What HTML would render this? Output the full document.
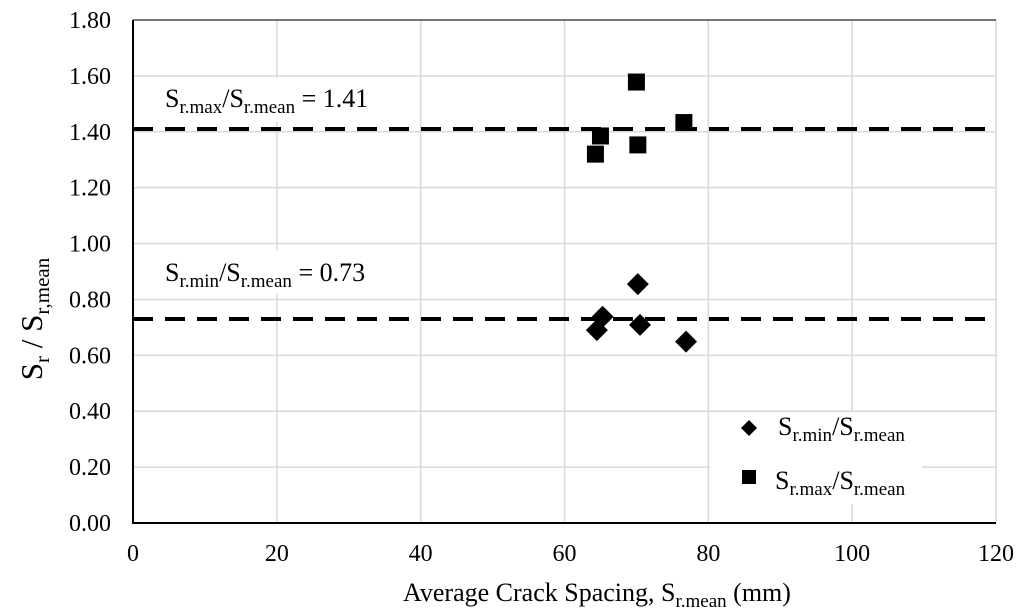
<!DOCTYPE html>
<html><head><meta charset="utf-8"><style>
body{margin:0;background:#fff;}
svg{display:block;font-family:"Liberation Serif",serif;}
</style></head><body>
<svg id="c" width="1024" height="613" xmlns="http://www.w3.org/2000/svg"></svg>
<script>
const xTicks=[0,20,40,60,80,100,120];
const yTicks=[0,0.2,0.4,0.6,0.8,1.0,1.2,1.4,1.6,1.8];
const minX=[70.2,65.3,64.5,70.5,76.9];
const minY=[0.855,0.738,0.69,0.709,0.649];
const maxX=[70.0,65.0,64.3,70.2,76.6];
const maxY=[1.578,1.385,1.32,1.353,1.433];
const refMax=[1.41];
const refMin=[0.73];
const NS="http://www.w3.org/2000/svg";
const svg=document.getElementById('c');
const X0=133,X1=996,Y0=523,Y1=20;
const sx=v=>X0+(v-0)/(120-0)*(X1-X0);
const sy=v=>Y0-(v-0)/(1.8-0)*(Y0-Y1);
function el(t,a,p){const e=document.createElementNS(NS,t);for(const k in a)e.setAttribute(k,a[k]);(p||svg).appendChild(e);return e;}
xTicks.forEach(t=>{if(t>0){const g=el('line',{x1:sx(t),x2:sx(t),y1:Y1,y2:Y0,stroke:'#d9d9d9','stroke-width':1.5});

}
const l=el('text',{x:sx(t),y:561,'text-anchor':'middle','font-size':24,fill:'#000'});l.textContent=t;

});
yTicks.forEach(t=>{if(t>0){const g=el('line',{x1:X0,x2:X1,y1:sy(t),y2:sy(t),stroke:'#d9d9d9','stroke-width':1.5});

}
const l=el('text',{x:111,y:sy(t)+8,'text-anchor':'end','font-size':24,fill:'#000'});l.textContent=t.toFixed(2);

});
el('line',{x1:X0,x2:X0,y1:Y1,y2:Y0+1,stroke:'#000','stroke-width':2});
el('line',{x1:X0,x2:X1,y1:Y0,y2:Y0,stroke:'#000','stroke-width':2});
el('line',{x1:X0,x2:X1,y1:Y1,y2:Y1,stroke:'#000','stroke-width':1});
el('rect',{x:155,y:78,width:240,height:44,fill:'#fff'});
el('rect',{x:155,y:250,width:240,height:44,fill:'#fff'});
[[refMax[0],'max-ratio-line'],[refMin[0],'min-ratio-line']].forEach(([v,n])=>{
const l=el('line',{x1:X0,x2:X1,y1:sy(v),y2:sy(v),stroke:'#000','stroke-width':4,'stroke-dasharray':'20 12'});

});
function lab(x,y,sub,val,name){const t=el('text',{x:x,y:y,'font-size':26,fill:'#000'});
t.innerHTML='S<tspan font-size="19" dy="6">r.'+sub+'</tspan><tspan dy="-6">/S</tspan><tspan font-size="19" dy="6">r.mean</tspan><tspan dy="-6">'+val+'</tspan>';

}
lab(165,107,'max',' = '+refMax[0].toFixed(2),'max-ratio-annotation');
lab(165,281,'min',' = '+refMin[0].toFixed(2),'min-ratio-annotation');
function dia(x,y,r){return `M${x} ${y-r}L${x+r} ${y}L${x} ${y+r}L${x-r} ${y}Z`;}
minX.forEach((v,i)=>{const p=el('path',{d:dia(sx(v),sy(minY[i]),11),fill:'#000'});

});
maxX.forEach((v,i)=>{const p=el('rect',{x:sx(v)-8.5,y:sy(maxY[i])-8.5,width:17,height:17,fill:'#000'});

});
const lg=el('g',{});


el('rect',{x:710,y:412,width:212,height:92,fill:'#fff'},lg);
el('path',{d:dia(749,428,8),fill:'#000'},lg);
el('rect',{x:742,y:470,width:14,height:14,fill:'#000'},lg);
const t1=el('text',{x:778,y:435,'font-size':26,fill:'#000'},lg);
t1.innerHTML='S<tspan font-size="19" dy="6">r.min</tspan><tspan dy="-6">/S</tspan><tspan font-size="19" dy="6">r.mean</tspan>';


const t2=el('text',{x:775,y:489,'font-size':26,fill:'#000'},lg);
t2.innerHTML='S<tspan font-size="19" dy="6">r.max</tspan><tspan dy="-6">/S</tspan><tspan font-size="19" dy="6">r.mean</tspan>';


const xt=el('text',{x:597,y:601,'text-anchor':'middle','font-size':26,fill:'#000'});
xt.innerHTML='Average Crack Spacing, S<tspan font-size="19" dy="6">r.mean</tspan><tspan dy="-6"> (mm)</tspan>';


const yt=el('text',{x:0,y:0,'text-anchor':'middle','font-size':31,fill:'#000',transform:'translate(42,319) rotate(-90)'});
yt.innerHTML='S<tspan font-size="21" dy="7">r</tspan><tspan dy="-7"> / S</tspan><tspan font-size="21" dy="7">r,mean</tspan>';


</script>
</body></html>
